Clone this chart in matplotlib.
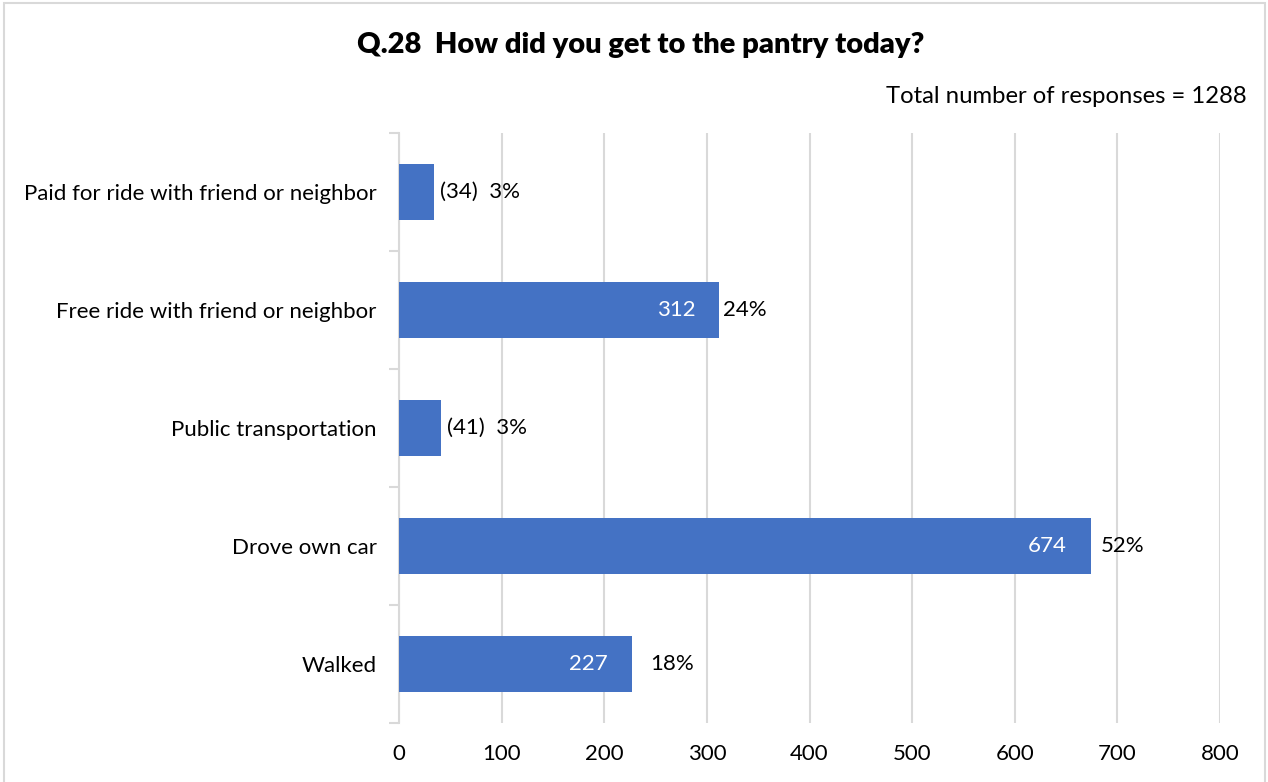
import numpy as np
import matplotlib.pyplot as plt
from matplotlib.patches import Rectangle
from matplotlib.ticker import MultipleLocator

plt.rcParams['font.family'] = ['Lato', 'DejaVu Sans']

categories = ["Paid for ride with friend or neighbor",
              "Free ride with friend or neighbor",
              "Public transportation",
              "Drove own car",
              "Walked"]
counts = [34, 312, 41, 674, 227]
percents = [3, 24, 3, 52, 18]
total = 1288

BLUE = "#4472C4"
GRID = "#D9D9D9"
FS = 16

fig = plt.figure(figsize=(12.68, 7.82), dpi=100)
ax = fig.add_axes([0.3147, 0.0754, 0.6475, 0.7545])

y = np.arange(len(categories))
bars = ax.barh(y, counts, height=0.47, color=BLUE, zorder=3)
ax.set_ylim(len(categories) - 0.5, -0.5)
ax.set_xlim(0, 800)
ax.xaxis.set_major_locator(MultipleLocator(100))

ax.set_yticks(y)
ax.set_yticklabels(categories, fontsize=FS)
ax.set_yticks(np.arange(-0.5, len(categories)), minor=True)
ax.tick_params(axis='y', which='major', length=0, pad=16)
ax.tick_params(axis='y', which='minor', length=7, color=GRID, width=1.5)
ax.tick_params(axis='x', length=0, labelsize=FS, pad=15)

ax.grid(axis='x', color=GRID, linewidth=1.5, zorder=0)
for side in ['top', 'right', 'bottom']:
    ax.spines[side].set_visible(False)
ax.spines['left'].set_color(GRID)
ax.spines['left'].set_linewidth(1.5)

# percent labels sit just past the bar end; small bars also show the count
outside_pad = [6, 4, 6, 10, 18]
for i, (c, p) in enumerate(zip(counts, percents)):
    if c < 100:
        ax.annotate(f"({c})  {p}%", (c, i), xytext=(outside_pad[i], 0),
                    textcoords='offset pixels', va='center', ha='left',
                    fontsize=FS, color='black')
    else:
        ax.annotate(f"{c}", (c, i), xytext=(-24, 0), textcoords='offset pixels',
                    va='center', ha='right', fontsize=FS, color='white')
        ax.annotate(f"{p}%", (c, i), xytext=(outside_pad[i], 0),
                    textcoords='offset pixels', va='center', ha='left',
                    fontsize=FS, color='black')

fig.text(0.505, 0.942, "Q.28  How did you get to the pantry today?",
         ha='center', va='center', fontsize=21, fontweight='heavy')
fig.text(0.983, 0.877, f"Total number of responses = {total}",
         ha='right', va='center', fontsize=17.2)

fig.add_artist(Rectangle((0.003, -0.01), 0.995, 1.006, transform=fig.transFigure,
                         fill=False, edgecolor=GRID, linewidth=1.5))

fig.savefig("out.png", dpi=100)
